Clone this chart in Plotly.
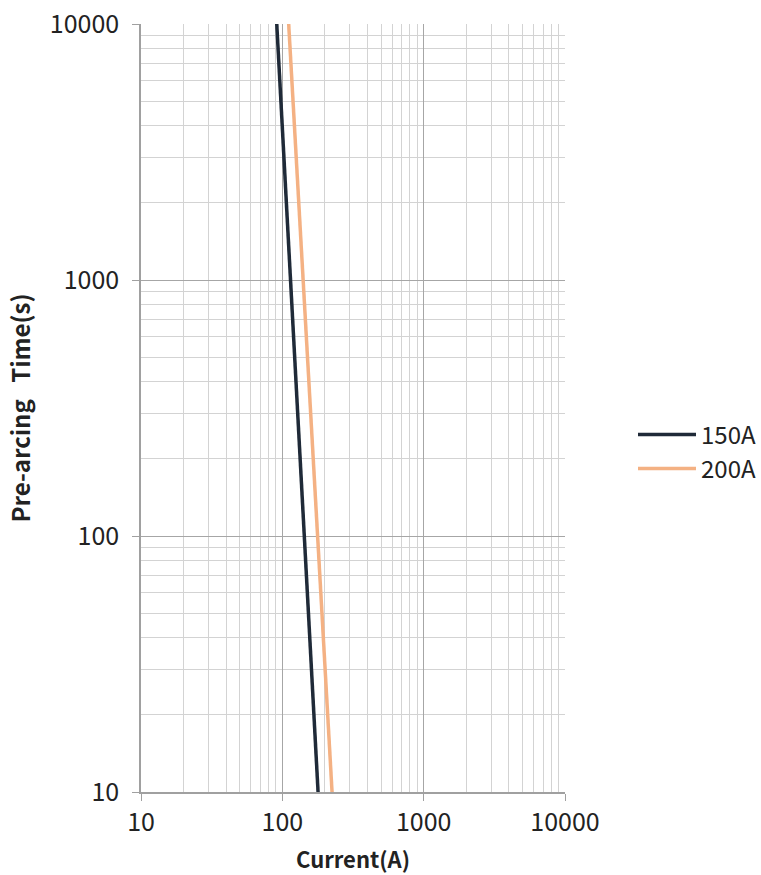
import plotly.graph_objects as go

series_names = ["150A", "200A"]
current_150 = [91.3, 179]
time_150 = [10000, 10]
current_200 = [110.9, 224.8]
time_200 = [10000, 10]
tick_vals = [10, 100, 1000, 10000]
tick_text = ["10", "100", "1000", "10000"]

FONT = "Noto Sans CJK SC"
major = "#a6a6a6"
minor = "#d3d3d3"

fig = go.Figure()
fig.add_trace(go.Scatter(x=current_150, y=time_150, mode="lines", name=series_names[0],
                         line=dict(color="#1f2a38", width=3.5)))
fig.add_trace(go.Scatter(x=current_200, y=time_200, mode="lines", name=series_names[1],
                         line=dict(color="#f4b183", width=3.5)))

axis_common = dict(
    type="log",
    tickvals=tick_vals, ticktext=tick_text,
    showgrid=True, gridcolor=major, gridwidth=1.2,
    showline=True, linecolor="#a0a0a0", linewidth=1.5, mirror=False,
    ticks="outside", ticklen=7, tickcolor="#a0a0a0",
    tickfont=dict(family=FONT, size=25, color="#222"),
    minor=dict(dtick="D1", showgrid=True, gridcolor=minor, gridwidth=1, ticks=""),
    zeroline=False,
    automargin=False,
    ticklabeloverflow="allow",
)

fig.update_layout(
    width=761, height=875,
    margin=dict(l=141, r=196, t=24, b=83, autoexpand=False),
    paper_bgcolor="white", plot_bgcolor="white",
    xaxis=dict(axis_common, range=[1, 4],
               title=dict(text="<b>Current(A)</b>", font=dict(family=FONT, size=22, color="#222"), standoff=16)),
    yaxis=dict(axis_common, range=[1, 4], ticklabelstandoff=8,
               title=dict(text="<b>Pre-arcing\u00a0\u00a0\u00a0Time(s)</b>", font=dict(family=FONT, size=24, color="#222"), standoff=12)),
    legend=dict(x=(633 - 141) / 424, y=0.443, xanchor="left", yanchor="middle",
                font=dict(family=FONT, size=24, color="#222"),
                bgcolor="rgba(0,0,0,0)", itemwidth=58, tracegroupgap=4),
    showlegend=True,
)

fig.write_html("out.html", config={"displayModeBar": False},
               post_script="document.body.style.margin='0';document.body.style.overflow='hidden';")
